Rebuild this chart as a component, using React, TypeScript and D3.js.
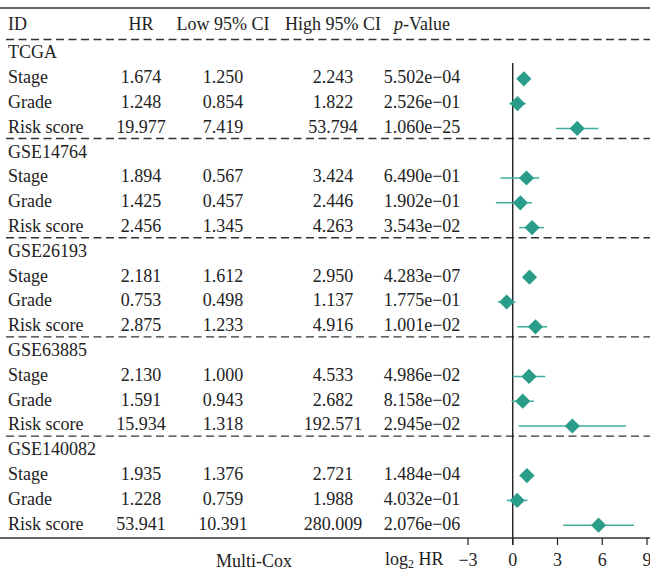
import React from "react";
import * as d3 from "d3";

// Multivariate Cox regression results per cohort
const cohorts = ["TCGA", "GSE14764", "GSE26193", "GSE63885", "GSE140082"];
const variables = ["Stage", "Grade", "Risk score"];

const hr = [
  1.674, 1.248, 19.977,
  1.894, 1.425, 2.456,
  2.181, 0.753, 2.875,
  2.13, 1.591, 15.934,
  1.935, 1.228, 53.941,
];
const lowCI = [
  1.25, 0.854, 7.419,
  0.567, 0.457, 1.345,
  1.612, 0.498, 1.233,
  1.0, 0.943, 1.318,
  1.376, 0.759, 10.391,
];
const highCI = [
  2.243, 1.822, 53.794,
  3.424, 2.446, 4.263,
  2.95, 1.137, 4.916,
  4.533, 2.682, 192.571,
  2.721, 1.988, 280.009,
];
const pValues = [
  5.502e-4, 2.526e-1, 1.06e-25,
  6.49e-1, 1.902e-1, 3.543e-2,
  4.283e-7, 1.775e-1, 1.001e-2,
  4.986e-2, 8.158e-2, 2.945e-2,
  1.484e-4, 4.032e-1, 2.076e-6,
];
const xTicks = [-3, 0, 3, 6, 9];

const W = 650;
const H = 572;
const FONT = "'Liberation Serif', 'Times New Roman', serif";
const FS = 18;
const INK = "#222";
const TEAL = "#2a9d8a";
const TEAL_LINE = "#3fae9e";

function fmtP(p: number): string {
  const [m, e] = p.toExponential(3).split("e");
  const n = Math.abs(parseInt(e, 10));
  const sign = e.startsWith("-") ? "\u2212" : "+";
  return `${m}e${sign}${String(n).padStart(2, "0")}`;
}

type Row =
  | { kind: "group"; label: string }
  | { kind: "var"; label: string; k: number };

const rows: Row[] = [];
cohorts.forEach((c, gi) => {
  rows.push({ kind: "group", label: c });
  variables.forEach((v, vi) => rows.push({ kind: "var", label: v, k: gi * 3 + vi }));
});

export default function App() {
  // baseline of each table row
  const yRow = d3.scaleLinear().domain([0, rows.length - 1]).range([58.3, 58.3 + 24.8 * (rows.length - 1)]);
  const x = d3.scaleLinear().domain([-3, 9]).range([468, 647]);
  const headerBase = 30;
  const axisY = yRow(rows.length - 1) + 8.5;
  const zeroX = x(0);

  const colHR = 141;
  const colLow = 223;
  const colHigh = 333;
  const colP = 422;

  const dashYs = [39.5];
  cohorts.forEach((_, gi) => {
    if (gi < cohorts.length - 1) dashYs.push(yRow(gi * 4 + 3) + 5.8);
  });

  const textProps = { fontFamily: FONT, fontSize: FS, fill: INK } as const;

  return (
    <div style={{ position: "absolute", left: 0, top: 0 }}>
      <svg width={W} height={H} viewBox={`0 0 ${W} ${H}`} style={{ display: "block", background: "#fff" }}>
        {/* top rule */}
        <line x1={0} x2={W} y1={8} y2={8} stroke="#333" strokeWidth={1.6} />

        {/* column headers */}
        <g {...textProps}>
          <text x={8} y={headerBase}>ID</text>
          <text x={colHR} y={headerBase} textAnchor="middle">HR</text>
          <text x={colLow} y={headerBase} textAnchor="middle">Low 95% CI</text>
          <text x={colHigh} y={headerBase} textAnchor="middle">High 95% CI</text>
          <text x={colP} y={headerBase} textAnchor="middle">
            <tspan fontStyle="italic">p</tspan>-Value
          </text>
        </g>

        {/* group separators */}
        {dashYs.map((y, i) => (
          <line key={i} x1={6} x2={W} y1={y} y2={y} stroke="#333" strokeWidth={1.4} strokeDasharray="8,4.5" />
        ))}

        {/* zero reference line */}
        <line x1={zeroX} x2={zeroX} y1={63} y2={axisY + 7} stroke="#111" strokeWidth={1.3} />

        {/* table rows and forest marks */}
        {rows.map((r, i) => {
          const y = yRow(i);
          if (r.kind === "group") {
            return (
              <text key={i} x={8} y={y} {...textProps}>{r.label}</text>
            );
          }
          const k = r.k;
          const cy = y - 4.3;
          const cx = x(Math.log2(hr[k]));
          const d = 7.6;
          return (
            <g key={i}>
              <g {...textProps}>
                <text x={8} y={y}>{r.label}</text>
                <text x={colHR} y={y} textAnchor="middle">{hr[k].toFixed(3)}</text>
                <text x={colLow} y={y} textAnchor="middle">{lowCI[k].toFixed(3)}</text>
                <text x={colHigh} y={y} textAnchor="middle">{highCI[k].toFixed(3)}</text>
                <text x={colP} y={y} textAnchor="middle">{fmtP(pValues[k])}</text>
              </g>
              <line
                x1={x(Math.log2(lowCI[k]))}
                x2={x(Math.log2(highCI[k]))}
                y1={cy}
                y2={cy}
                stroke={TEAL_LINE}
                strokeWidth={1.5}
              />
              <path
                d={`M${cx},${cy - d}L${cx + d},${cy}L${cx},${cy + d}L${cx - d},${cy}Z`}
                fill={TEAL}
              />
            </g>
          );
        })}

        {/* bottom rule / axis */}
        <line x1={0} x2={W} y1={axisY} y2={axisY} stroke="#333" strokeWidth={1.6} />
        {xTicks.map((t) => (
          <g key={t}>
            <line x1={x(t)} x2={x(t)} y1={axisY} y2={axisY + 7} stroke="#222" strokeWidth={1.2} />
            <text x={x(t)} y={566} textAnchor="middle" {...textProps}>
              {t < 0 ? `\u2212${Math.abs(t)}` : t}
            </text>
          </g>
        ))}
        <text x={254} y={567} textAnchor="middle" {...textProps}>Multi-Cox</text>
        <text x={385} y={565} {...textProps}>
          log<tspan fontSize={12} dy={3}>2</tspan>
          <tspan dy={-3}> HR</tspan>
        </text>
      </svg>
    </div>
  );
}
